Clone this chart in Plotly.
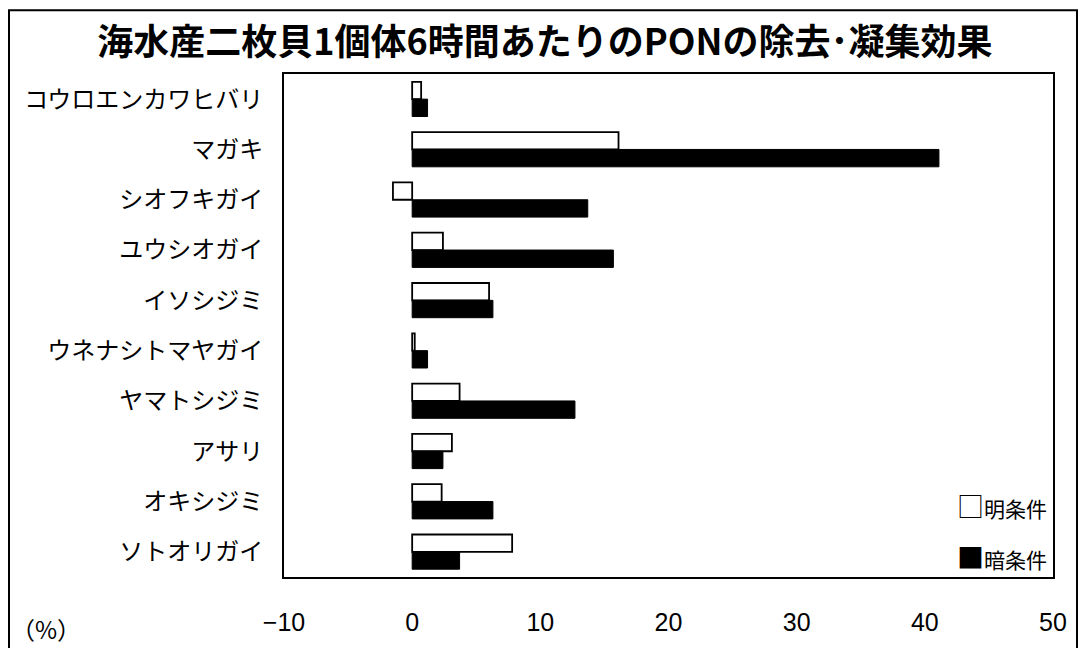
import plotly.graph_objects as go

# Species (top to bottom) and PON removal/aggregation per individual over 6 h (%)
species = [
    "コウロエンカワヒバリ", "マガキ", "シオフキガイ", "ユウシオガイ", "イソシジミ",
    "ウネナシトマヤガイ", "ヤマトシジミ", "アサリ", "オキシジミ", "ソトオリガイ",
]
light_values = [0.7, 16.1, -1.5, 2.4, 6.0, 0.2, 3.7, 3.1, 2.3, 7.8]
dark_values = [1.2, 41.1, 13.7, 15.7, 6.3, 1.2, 12.7, 2.4, 6.3, 3.7]
x_ticks = [-10, 0, 10, 20, 30, 40, 50]

JP = "Noto Sans CJK JP"

fig = go.Figure()
fig.add_trace(go.Bar(
    y=species, x=light_values, orientation="h", name="明条件",
    marker=dict(color="white", line=dict(color="black", width=1.8)),
))
fig.add_trace(go.Bar(
    y=species, x=dark_values, orientation="h", name="暗条件",
    marker=dict(color="black", line=dict(color="black", width=1)),
))

fig.update_layout(
    width=1081, height=648,
    margin=dict(l=284, r=28, t=74, b=69),
    paper_bgcolor="white", plot_bgcolor="white",
    barmode="group", bargap=0.31, bargroupgap=0,
    showlegend=False,
    font=dict(family=JP, color="black"),
    title=dict(
        text="<b>海水産二枚貝1個体6時間あたりのPONの除去･凝集効果</b>",
        x=0.504, xref="container", xanchor="center",
        y=0.935, yref="container", yanchor="middle",
        font=dict(family=JP, size=36, color="black"),
    ),
    xaxis=dict(
        range=[-10, 50], tickvals=x_ticks, showgrid=False, zeroline=False,
        showline=True, mirror=True, linecolor="black", linewidth=1.8,
        ticks="", ticklabelstandoff=22,
        tickfont=dict(family="Liberation Sans", size=25, color="black"),
    ),
    yaxis=dict(
        autorange="reversed", showgrid=False, zeroline=False,
        showline=True, mirror=True, linecolor="black", linewidth=1.8,
        ticks="", ticklabelstandoff=14,
        tickfont=dict(family=JP, size=24, color="black"),
    ),
    shapes=[dict(
        type="rect", xref="paper", yref="paper",
        x0=-0.3576, x1=1.0312, y0=-0.2, y1=1.1267,
        line=dict(color="black", width=2), fillcolor="rgba(0,0,0,0)",
    )],
    annotations=[
        dict(text="<span style='font-size:27px'>□</span>明条件", xref="paper", yref="paper",
             x=0.872, y=0.1426, xanchor="left", yanchor="middle", showarrow=False,
             font=dict(family=JP, size=21, color="black")),
        dict(text="<span style='font-size:27px'>■</span>暗条件", xref="paper", yref="paper",
             x=0.872, y=0.0416, xanchor="left", yanchor="middle", showarrow=False,
             font=dict(family=JP, size=21, color="black")),
        dict(text="（%）", xref="paper", yref="paper", x=-0.358, y=-0.103,
             xanchor="left", yanchor="middle", showarrow=False,
             font=dict(family=JP, size=24, color="black")),
    ],
)

fig.write_html("out.html")
